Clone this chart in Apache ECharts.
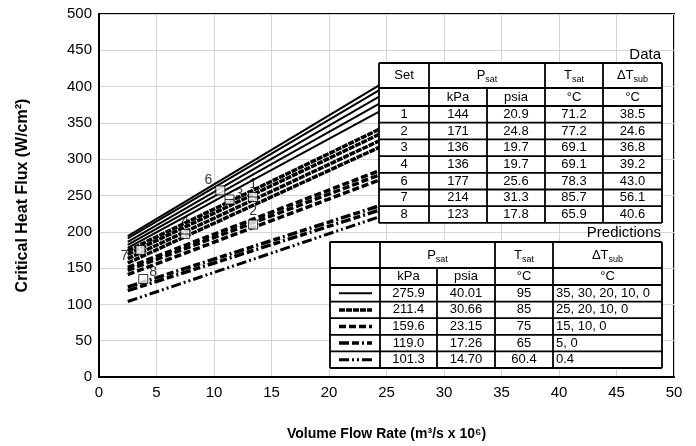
<!DOCTYPE html>
<html>
<head>
<meta charset="utf-8">
<script src="https://cdn.jsdelivr.net/npm/echarts@6/dist/echarts.min.js"></script>
<style>
html, body { margin: 0; padding: 0; background: #fff; }
#chart { width: 696px; height: 446px; }
</style>
</head>
<body>
<div id="chart"></div>
<script>
var FONT = '"Liberation Sans", Arial, sans-serif';

// prediction lines run from flow 2.5 to 25, [CHF at start, CHF at end]
var flowEnds = [2.5, 25];
var pred95 = [[194, 408], [191, 401], [186, 392], [182, 382], [178, 371]];
var pred85 = [[174, 346], [169, 339], [163, 330], [157, 321]];
var pred75 = [[151, 288], [147, 282], [141, 275]];
var pred65 = [[124, 239], [119, 233]];
var pred60 = [[104, 224]];

// measured data sets
var setNames = ['1', '2', '3', '4', '6', '7', '8'];
var setFlow = [13.4, 13.4, 11.35, 7.5, 10.55, 3.6, 3.85];
var setChf = [248, 210, 244.5, 197, 257, 175, 135];

// data table
var dataKpa = ['144', '171', '136', '136', '177', '214', '123'];
var dataPsia = ['20.9', '24.8', '19.7', '19.7', '25.6', '31.3', '17.8'];
var dataTsat = ['71.2', '77.2', '69.1', '69.1', '78.3', '85.7', '65.9'];
var dataDtsub = ['38.5', '24.6', '36.8', '39.2', '43.0', '56.1', '40.6'];

// predictions table
var predKpa = ['275.9', '211.4', '159.6', '119.0', '101.3'];
var predPsia = ['40.01', '30.66', '23.15', '17.26', '14.70'];
var predTsat = ['95', '85', '75', '65', '60.4'];
var predDtsub = ['35, 30, 20, 10, 0', '25, 20, 10, 0', '15, 10, 0', '5, 0', '0.4'];

var groups = [pred95, pred85, pred75, pred65, pred60];
var groupStyles = [
    {width: 2, dash: 'solid'},
    {width: 3.5, dash: [6, 1]},
    {width: 3.5, dash: [7, 3]},
    {width: 3.5, dash: [10, 3, 7, 3, 2, 3]},
    {width: 3, dash: [10, 3, 2, 3, 2, 3]}
];

var series = [];
for (var g = 0; g < groups.length; g++) {
    for (var k = 0; k < groups[g].length; k++) {
        series.push({
            type: 'line',
            showSymbol: false,
            silent: true,
            z: 2,
            data: [[flowEnds[0], groups[g][k][0]], [flowEnds[1], groups[g][k][1]]],
            lineStyle: {color: '#000', width: groupStyles[g].width, type: groupStyles[g].dash}
        });
    }
}

var labelPos = {'1': 'top', '2': 'top', '3': 'right', '4': 'top', '6': 'left', '7': 'left', '8': 'right'};
var labelOff = {'1': [0, 2], '2': [0, 2], '3': [-2, -5], '4': [0, 2], '6': [0, -10], '7': [-4, 6], '8': [-2, -7]};
var pts = [];
for (var i = 0; i < setNames.length; i++) {
    var nm = setNames[i];
    var lined = (nm == '1' || nm == '3' || nm == '4');
    pts.push({
        name: nm,
        value: [setFlow[i], setChf[i]],
        symbol: lined ? 'path://M0 0H10V10H0Z M0 5H10' : 'rect',
        label: {position: labelPos[nm], offset: labelOff[nm]}
    });
}
series.push({
    type: 'scatter',
    z: 5,
    symbolSize: 9,
    data: pts,
    itemStyle: {color: '#fff', borderColor: '#000', borderWidth: 1},
    label: {show: true, formatter: '{b}', color: '#000', fontSize: 14, fontFamily: FONT, distance: 3}
});

// ---- tables drawn as graphic elements
var graphics = [];
function hline(x1, x2, y) {
    graphics.push({type: 'line', z: 100, silent: true, shape: {x1: x1, y1: y, x2: x2, y2: y}, style: {stroke: '#000', lineWidth: 1.8}});
}
function vline(x, y1, y2) {
    graphics.push({type: 'line', z: 100, silent: true, shape: {x1: x, y1: y1, x2: x, y2: y2}, style: {stroke: '#000', lineWidth: 1.8}});
}
function txt(s, x, y, align) {
    graphics.push({type: 'text', z: 101, silent: true, style: {
        text: s, x: x, y: y, align: align || 'center', verticalAlign: 'middle',
        fontSize: 13, fontFamily: FONT, fill: '#000'
    }});
}
function subTxt(main, sub, x, y) {
    graphics.push({type: 'text', z: 101, silent: true, style: {
        text: '{a|' + main + '}{b|' + sub + '}', x: x, y: y, align: 'center', verticalAlign: 'middle',
        fill: '#000',
        rich: {
            a: {fontSize: 13, fontFamily: FONT, lineHeight: 18},
            b: {fontSize: 9, fontFamily: FONT, lineHeight: 8, verticalAlign: 'bottom'}
        }
    }});
}
function bg(x1, y1, x2, y2) {
    graphics.push({type: 'rect', z: 99, silent: true, shape: {x: x1, y: y1, width: x2 - x1, height: y2 - y1}, style: {fill: '#fff'}});
}
function mid(a, b) { return (a + b) / 2; }

// Data table
var dc = [379, 429, 487, 545, 603, 662];
var dr = [63, 88, 106];
for (var r = 1; r <= 7; r++) dr.push(106 + r * 16.7);
var dBot = dr[dr.length - 1];
bg(dc[0], dr[0], dc[5], dBot);
for (var r = 0; r < dr.length; r++) hline(dc[0], dc[5], dr[r]);
vline(dc[0], dr[0], dBot); vline(dc[1], dr[0], dBot); vline(dc[2], dr[1], dBot);
vline(dc[3], dr[0], dBot); vline(dc[4], dr[0], dBot); vline(dc[5], dr[0], dBot);
txt('Set', mid(dc[0], dc[1]), mid(dr[0], dr[1]));
subTxt('P', 'sat', mid(dc[1], dc[3]), mid(dr[0], dr[1]));
subTxt('T', 'sat', mid(dc[3], dc[4]), mid(dr[0], dr[1]));
subTxt('\u0394T', 'sub', mid(dc[4], dc[5]), mid(dr[0], dr[1]));
txt('kPa', mid(dc[1], dc[2]), mid(dr[1], dr[2]));
txt('psia', mid(dc[2], dc[3]), mid(dr[1], dr[2]));
txt('\u00b0C', mid(dc[3], dc[4]), mid(dr[1], dr[2]));
txt('\u00b0C', mid(dc[4], dc[5]), mid(dr[1], dr[2]));
for (var i = 0; i < setNames.length; i++) {
    var yc = mid(dr[i + 2], dr[i + 3]);
    txt(setNames[i], mid(dc[0], dc[1]), yc);
    txt(dataKpa[i], mid(dc[1], dc[2]), yc);
    txt(dataPsia[i], mid(dc[2], dc[3]), yc);
    txt(dataTsat[i], mid(dc[3], dc[4]), yc);
    txt(dataDtsub[i], mid(dc[4], dc[5]), yc);
}
graphics.push({type: 'text', z: 101, silent: true, style: {text: 'Data', x: 661, y: 55, align: 'right', verticalAlign: 'middle', fontSize: 15, fontFamily: FONT, fill: '#000'}});

// Predictions table
var pc = [330, 380, 437, 495, 553, 662];
var pr = [242, 268, 285];
for (var r = 1; r <= 5; r++) pr.push(285 + r * 16.6);
var pBot = pr[pr.length - 1];
bg(pc[0], pr[0], pc[5], pBot);
for (var r = 0; r < pr.length; r++) hline(pc[0], pc[5], pr[r]);
vline(pc[0], pr[0], pBot); vline(pc[1], pr[0], pBot); vline(pc[2], pr[1], pBot);
vline(pc[3], pr[0], pBot); vline(pc[4], pr[0], pBot); vline(pc[5], pr[0], pBot);
subTxt('P', 'sat', mid(pc[1], pc[3]), mid(pr[0], pr[1]));
subTxt('T', 'sat', mid(pc[3], pc[4]), mid(pr[0], pr[1]));
subTxt('\u0394T', 'sub', mid(pc[4], pc[5]), mid(pr[0], pr[1]));
txt('kPa', mid(pc[1], pc[2]), mid(pr[1], pr[2]));
txt('psia', mid(pc[2], pc[3]), mid(pr[1], pr[2]));
txt('\u00b0C', mid(pc[3], pc[4]), mid(pr[1], pr[2]));
txt('\u00b0C', mid(pc[4], pc[5]), mid(pr[1], pr[2]));
for (var i = 0; i < predKpa.length; i++) {
    var yc = mid(pr[i + 2], pr[i + 3]);
    var st = groupStyles[i];
    graphics.push({type: 'line', z: 101, silent: true,
        shape: {x1: pc[0] + 9, y1: yc, x2: pc[1] - 8, y2: yc},
        style: {stroke: '#000', lineWidth: st.width, lineDash: st.dash == 'solid' ? null : st.dash}});
    txt(predKpa[i], mid(pc[1], pc[2]), yc);
    txt(predPsia[i], mid(pc[2], pc[3]), yc);
    txt(predTsat[i], mid(pc[3], pc[4]), yc);
    txt(predDtsub[i], pc[4] + 3, yc, 'left');
}
graphics.push({type: 'text', z: 101, silent: true, style: {text: 'Predictions', x: 661, y: 233, align: 'right', verticalAlign: 'middle', fontSize: 15, fontFamily: FONT, fill: '#000'}});

var myChart = echarts.init(document.getElementById('chart'));
var option = {
    animation: false,
    backgroundColor: '#fff',
    grid: {left: 99, right: 22, top: 14, bottom: 68, show: true, borderColor: '#000', borderWidth: 2, backgroundColor: 'transparent'},
    xAxis: {
        type: 'value', min: 0, max: 50, interval: 5,
        name: 'Volume Flow Rate (m\u00b3/s x 10\u2076)',
        nameLocation: 'middle', nameGap: 50,
        nameTextStyle: {fontSize: 14, fontWeight: 'bold', fontFamily: FONT, color: '#000'},
        axisLine: {show: true, lineStyle: {color: '#000', width: 2}},
        axisTick: {show: false},
        axisLabel: {fontSize: 15, fontFamily: FONT, color: '#000', margin: 8},
        splitLine: {show: true, lineStyle: {color: '#d4d4d4', width: 1}}
    },
    yAxis: {
        type: 'value', min: 0, max: 500, interval: 50,
        name: 'Critical Heat Flux (W/cm\u00b2)',
        nameLocation: 'middle', nameGap: 68,
        nameTextStyle: {fontSize: 16, fontWeight: 'bold', fontFamily: FONT, color: '#000'},
        axisLine: {show: true, lineStyle: {color: '#000', width: 2}},
        axisTick: {show: false},
        axisLabel: {fontSize: 15, fontFamily: FONT, color: '#000', margin: 7},
        splitLine: {show: true, lineStyle: {color: '#d4d4d4', width: 1}}
    },
    series: series,
    graphic: graphics
};
myChart.setOption(option);
</script>
</body>
</html>
